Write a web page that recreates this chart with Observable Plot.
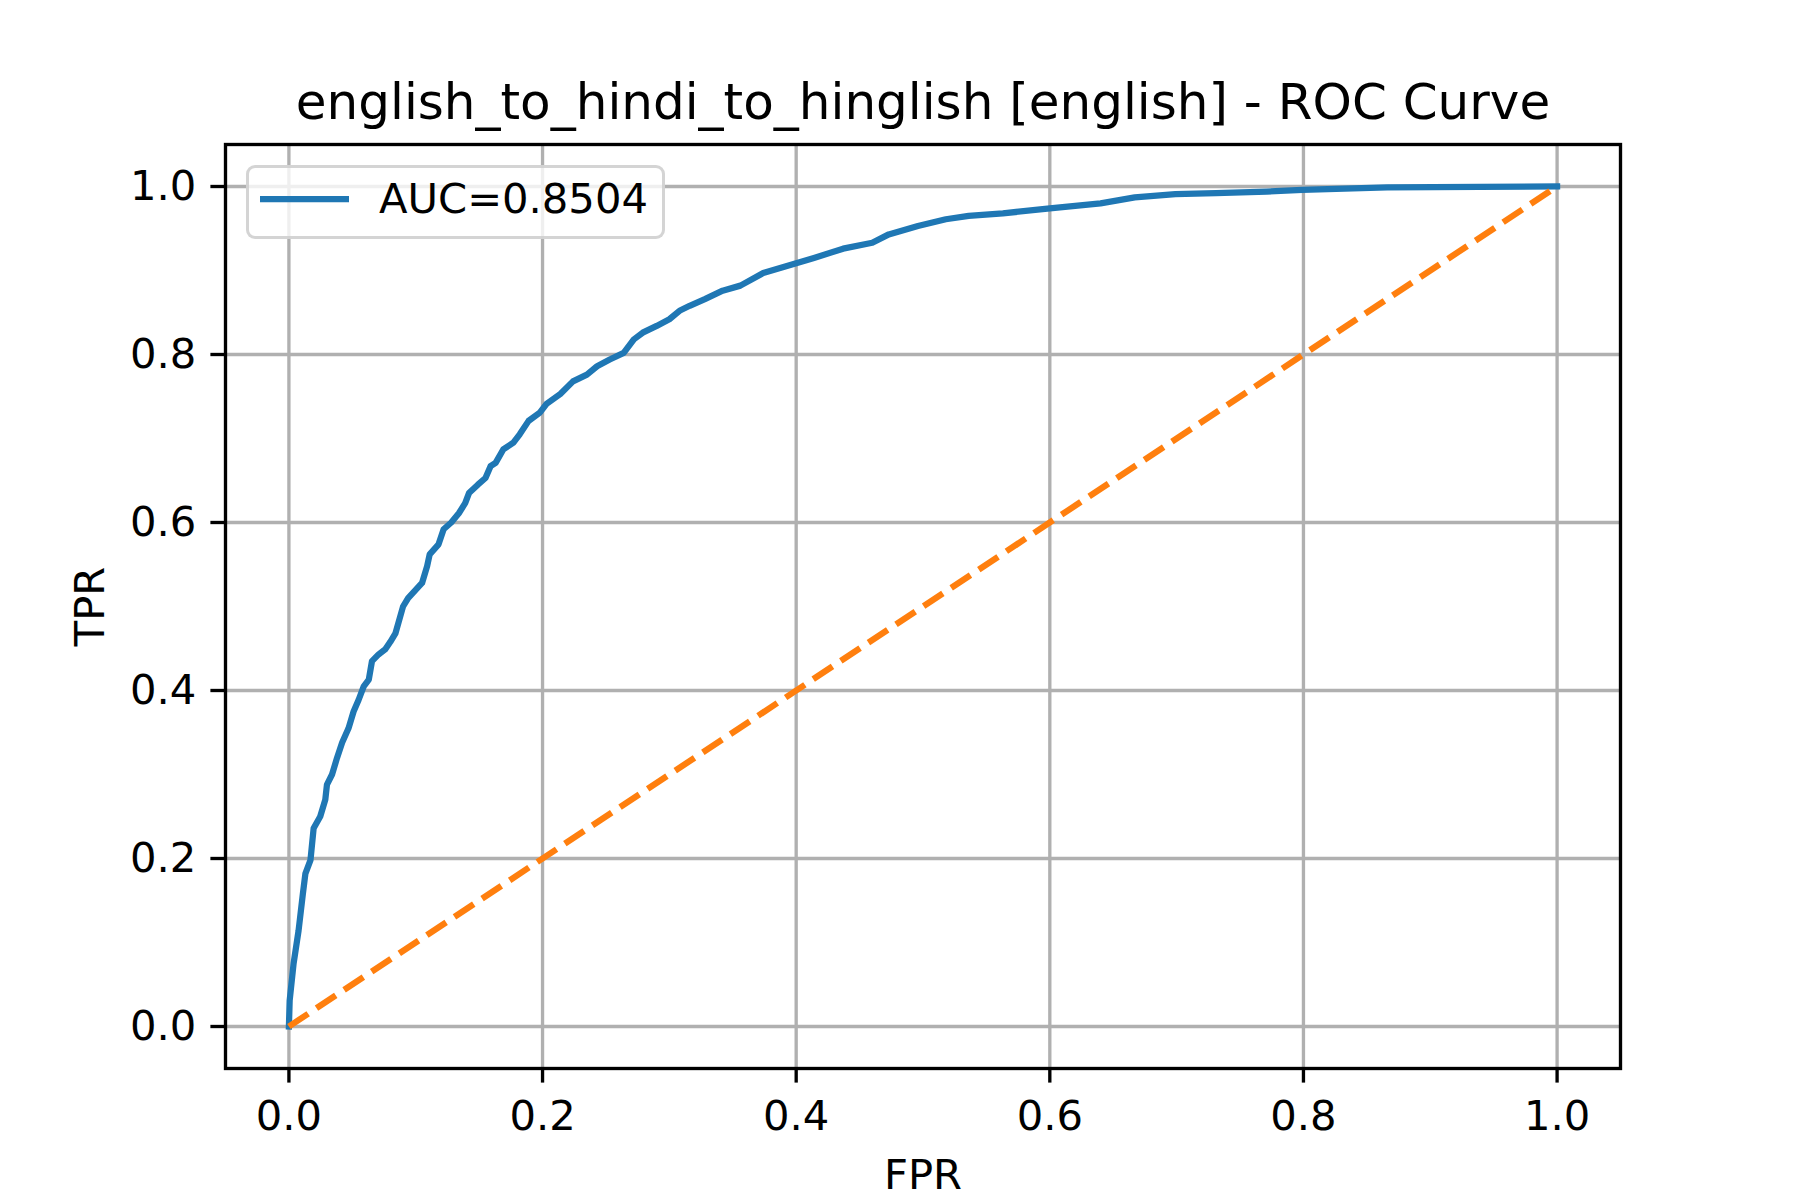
<!DOCTYPE html>
<html>
<head>
<meta charset="utf-8">
<script src="https://cdn.jsdelivr.net/npm/d3@7"></script>
<script src="https://cdn.jsdelivr.net/npm/@observablehq/plot@0.6"></script>
<style>
  html, body { margin: 0; padding: 0; background: #fff; }
  #wrap { position: relative; width: 1800px; height: 1200px; }
  #legend {
    position: absolute; left: 246px; top: 165px; width: 413px; height: 68px;
    border: 3.4px solid rgba(204,204,204,0.85); border-radius: 9px;
    background: rgba(255,255,255,0.8);
    font-family: "DejaVu Sans", sans-serif; font-size: 41.7px; color: #000;
  }
  #legend svg { position: absolute; left: 0; top: 0; }
  #legend span { position: absolute; left: 130px; top: 7px; line-height: 48px; white-space: nowrap; }
</style>
</head>
<body>
<div id="wrap"></div>
<script>
const title = "english_to_hindi_to_hinglish [english] - ROC Curve";
const xLabel = "FPR";
const yLabel = "TPR";
const legendLabel = "AUC=0.8504";
const tickValues = [0, 0.2, 0.4, 0.6, 0.8, 1.0];

const fpr = [0, 0.0006, 0.0037, 0.0076, 0.011, 0.013, 0.017, 0.0195, 0.0247, 0.0287, 0.030, 0.034, 0.038, 0.042, 0.047, 0.051, 0.055, 0.059, 0.063, 0.0655, 0.0707, 0.076, 0.080, 0.084, 0.090, 0.094, 0.105, 0.109, 0.111, 0.118, 0.122, 0.128, 0.134, 0.139, 0.142, 0.149, 0.155, 0.159, 0.163, 0.169, 0.177, 0.182, 0.189, 0.198, 0.203, 0.214, 0.224, 0.235, 0.243, 0.253, 0.264, 0.272, 0.279, 0.29, 0.30, 0.308, 0.316, 0.328, 0.342, 0.356, 0.374, 0.392, 0.414, 0.437, 0.46, 0.473, 0.496, 0.518, 0.536, 0.563, 0.60, 0.64, 0.667, 0.699, 0.731, 0.771, 0.799, 0.866, 1.0];
const tpr = [0, 0.031, 0.075, 0.114, 0.158, 0.182, 0.198, 0.236, 0.25, 0.27, 0.288, 0.30, 0.32, 0.338, 0.355, 0.375, 0.389, 0.405, 0.413, 0.435, 0.443, 0.449, 0.458, 0.468, 0.50, 0.51, 0.528, 0.548, 0.562, 0.574, 0.592, 0.60, 0.611, 0.623, 0.635, 0.645, 0.653, 0.667, 0.671, 0.687, 0.695, 0.705, 0.721, 0.731, 0.741, 0.753, 0.768, 0.776, 0.786, 0.794, 0.802, 0.818, 0.826, 0.834, 0.842, 0.852, 0.858, 0.866, 0.876, 0.882, 0.897, 0.905, 0.915, 0.926, 0.933, 0.943, 0.953, 0.961, 0.965, 0.968, 0.974, 0.980, 0.987, 0.991, 0.992, 0.994, 0.996, 0.999, 1.0];
const diagX = [0, 1];
const diagY = [0, 1];

const roc = fpr.map((f, i) => ({fpr: f, tpr: tpr[i]}));
const diag = diagX.map((d, i) => ({fpr: d, tpr: diagY[i]}));

const blue = "#1f77b4", orange = "#ff7f0e", gridColor = "#b0b0b0";
const lw = 6.25, thin = 3.33, fs = 41.7;

const chart = Plot.plot({
  width: 1800,
  height: 1200,
  marginLeft: 225,
  marginRight: 180,
  marginTop: 144,
  marginBottom: 132,
  style: {fontFamily: "DejaVu Sans", background: "white", color: "black"},
  x: {domain: [-0.05, 1.05]},
  y: {domain: [-0.05, 1.05]},
  marks: [
    Plot.gridX(tickValues, {stroke: gridColor, strokeOpacity: 1, strokeWidth: thin}),
    Plot.gridY(tickValues, {stroke: gridColor, strokeOpacity: 1, strokeWidth: thin}),
    Plot.line(roc, {x: "fpr", y: "tpr", stroke: blue, strokeWidth: lw, strokeLinejoin: "round", strokeLinecap: "square"}),
    Plot.line(diag, {x: "fpr", y: "tpr", stroke: orange, strokeWidth: lw, strokeDasharray: "23.1,10", strokeLinecap: "butt"}),
    Plot.frame({stroke: "black", strokeWidth: thin}),
    Plot.axisX({ticks: tickValues, tickFormat: ".1f", tickSize: 14.6, tickPadding: 17.6, fontSize: fs, strokeWidth: thin, label: null}),
    Plot.axisY({ticks: tickValues, tickFormat: ".1f", tickSize: 14.6, tickPadding: 14.6, fontSize: fs, strokeWidth: thin, label: null}),
    Plot.text([title], {frameAnchor: "top", dy: -26, lineAnchor: "bottom", fontSize: 50, fill: "black"}),
    Plot.text([xLabel], {frameAnchor: "bottom", dy: 120, lineAnchor: "bottom", fontSize: fs, fill: "black"}),
    Plot.text([yLabel], {frameAnchor: "left", dx: -122, rotate: -90, textAnchor: "middle", lineAnchor: "bottom", fontSize: fs, fill: "black"})
  ]
});

const wrap = document.getElementById("wrap");
wrap.appendChild(chart);

const legend = document.createElement("div");
legend.id = "legend";
legend.innerHTML = `<svg width="413" height="68"><line x1="11" x2="100" y1="31" y2="31" stroke="${blue}" stroke-width="${lw}"/></svg><span>${legendLabel}</span>`;
wrap.appendChild(legend);
</script>
</body>
</html>
